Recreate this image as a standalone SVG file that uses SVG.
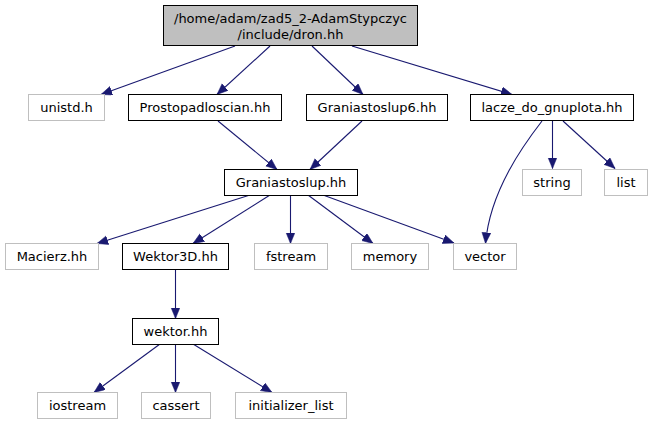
<svg xmlns="http://www.w3.org/2000/svg" width="653" height="425" viewBox="0 0 653 425">
<defs>
<style>
text{font-family:"DejaVu Sans","Liberation Sans",sans-serif;font-size:13px;fill:#000;text-anchor:middle}
.doc{fill:#fff;stroke:#000;stroke-width:1}
.ext{fill:#fff;stroke:#bfbfbf;stroke-width:1}
.root{fill:#bfbfbf;stroke:#000;stroke-width:1}
.e{fill:none;stroke:#191970;stroke-width:1.1;marker-end:url(#ah)}
</style>
<marker id="ah" markerUnits="userSpaceOnUse" markerWidth="12" markerHeight="10" refX="11" refY="4.5" orient="auto">
<path d="M0,0 L11,4.5 L0,9 z" fill="#191970" stroke="#191970" stroke-width="0.5"/>
</marker>
</defs>
<rect width="653" height="425" fill="#fff"/>
<g id="connectors">
<path class="e" d="M235,46 L101,94.5"/>
<path class="e" d="M270,46 L217,94.5"/>
<path class="e" d="M312,46 L363,94.5"/>
<path class="e" d="M352,46 L512,94.5"/>
<path class="e" d="M218,121 L277,169.5"/>
<path class="e" d="M362,121 L310,169.5"/>
<path class="e" d="M552.5,121 L552.5,168.5"/>
<path class="e" d="M563,121 L615,168.5"/>
<path class="e" d="M542,121 C525,143 490,190 485.5,243.5"/>
<path class="e" d="M250,195 L97,243.5"/>
<path class="e" d="M270,195 L193,243.5"/>
<path class="e" d="M290.5,195 L290.5,243.5"/>
<path class="e" d="M308,195 L373,243.5"/>
<path class="e" d="M323,195 L454,243"/>
<path class="e" d="M175.5,270 L175.5,318.5"/>
<path class="e" d="M160,344 L94,392.5"/>
<path class="e" d="M175.5,344 L175.5,392.5"/>
<path class="e" d="M193,344 L272,392.5"/>
</g>
<g id="n_root"><rect class="root" x="163.5" y="5.5" width="254" height="40"/><text x="290.5" y="22.5">/home/adam/zad5_2-AdamStypczyc</text><text x="290.5" y="38.5">/include/dron.hh</text></g>
<g id="n_unistd"><rect class="ext" x="28.5" y="94.5" width="76" height="26"/><text x="66.5" y="112">unistd.h</text></g>
<g id="n_prostopadloscian"><rect class="doc" x="128.5" y="94.5" width="153" height="26"/><text x="205" y="112">Prostopadloscian.hh</text></g>
<g id="n_graniastoslup6"><rect class="doc" x="306.5" y="94.5" width="141" height="26"/><text x="377" y="112">Graniastoslup6.hh</text></g>
<g id="n_lacze"><rect class="doc" x="470.5" y="94.5" width="163" height="26"/><text x="552" y="112">lacze_do_gnuplota.hh</text></g>
<g id="n_graniastoslup"><rect class="doc" x="224.5" y="169.5" width="133" height="26"/><text x="291" y="187">Graniastoslup.hh</text></g>
<g id="n_string"><rect class="ext" x="522.5" y="169.5" width="59" height="26"/><text x="552" y="187">string</text></g>
<g id="n_list"><rect class="ext" x="604.5" y="169.5" width="43" height="26"/><text x="626" y="187">list</text></g>
<g id="n_macierz"><rect class="ext" x="5.5" y="243.5" width="93" height="26"/><text x="52" y="261">Macierz.hh</text></g>
<g id="n_wektor3d"><rect class="doc" x="122.5" y="243.5" width="106" height="26"/><text x="175.5" y="261">Wektor3D.hh</text></g>
<g id="n_fstream"><rect class="ext" x="254.5" y="243.5" width="73" height="26"/><text x="291" y="261">fstream</text></g>
<g id="n_memory"><rect class="ext" x="351.5" y="243.5" width="77" height="26"/><text x="390" y="261">memory</text></g>
<g id="n_vector"><rect class="ext" x="453.5" y="243.5" width="63" height="26"/><text x="485" y="261">vector</text></g>
<g id="n_wektor"><rect class="doc" x="132.5" y="318.5" width="86" height="26"/><text x="175.5" y="336">wektor.hh</text></g>
<g id="n_iostream"><rect class="ext" x="37.5" y="392.5" width="80" height="26"/><text x="77.5" y="410">iostream</text></g>
<g id="n_cassert"><rect class="ext" x="141.5" y="392.5" width="69" height="26"/><text x="176" y="410">cassert</text></g>
<g id="n_initializer_list"><rect class="ext" x="235.5" y="392.5" width="111" height="26"/><text x="291" y="410">initializer_list</text></g>
</svg>
